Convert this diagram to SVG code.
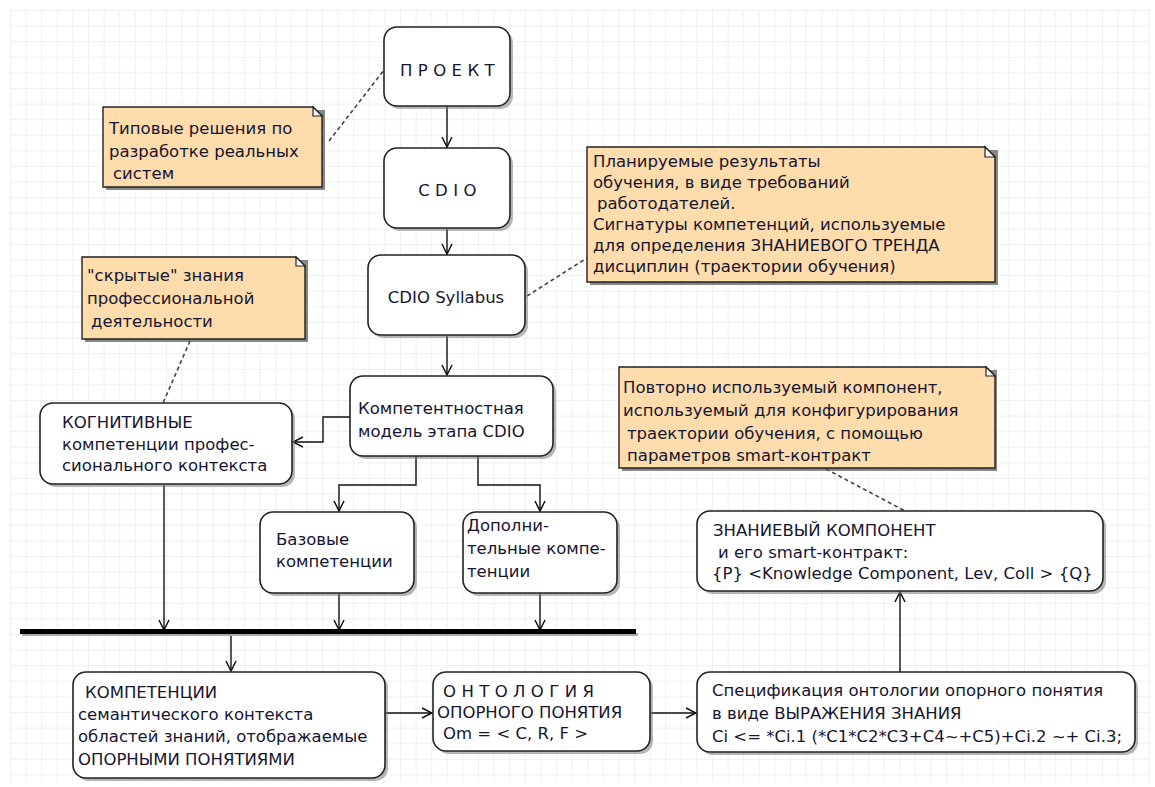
<svg xmlns="http://www.w3.org/2000/svg" width="1155" height="787" viewBox="0 0 1155 787">
<defs>
<pattern id="grid" x="10" y="10" width="15.6" height="15.6" patternUnits="userSpaceOnUse">
<path d="M0,0 H15.6 M0,0 V15.6" fill="none" stroke="#e2e2e2" stroke-width="1"/>
</pattern>
<marker id="arr" viewBox="0 0 12 12" refX="11" refY="6" markerWidth="12" markerHeight="12" markerUnits="userSpaceOnUse" orient="auto">
<path d="M1,1 L11,6 L1,11" fill="none" stroke="#111" stroke-width="1.5"/>
</marker>
</defs>
<style>
text{font-family:"DejaVu Sans","Liberation Sans",sans-serif;font-size:16.5px;fill:#151530}
.box{fill:#fff;stroke:#222;stroke-width:1.6}
.sh{fill:#7a7a7a;opacity:.55}
.nsh{fill:#555;opacity:.7}
.note{fill:#fedcab;stroke:#222;stroke-width:1.4}
.fold{fill:#fff;stroke:#222;stroke-width:1.2}
.con{fill:none;stroke:#111;stroke-width:1.4}
.dash{fill:none;stroke:#444;stroke-width:1.6;stroke-dasharray:4 3}
.sp{letter-spacing:5.4px}
</style>
<rect x="0" y="0" width="1155" height="787" fill="#fff"/>
<rect x="10" y="10" width="1140" height="772" fill="url(#grid)"/>

<g id="connectors">
<path class="con" d="M447,106 V147" marker-end="url(#arr)"/>
<path class="con" d="M447,229 V254" marker-end="url(#arr)"/>
<path class="con" d="M447,336 V375" marker-end="url(#arr)"/>
<path class="con" d="M350,417 H323 V442 H293" marker-end="url(#arr)"/>
<path class="con" d="M416,456 V485 H339 V511" marker-end="url(#arr)"/>
<path class="con" d="M478,456 V485 H540 V511" marker-end="url(#arr)"/>
<path class="con" d="M164,485 V630" marker-end="url(#arr)"/>
<path class="con" d="M339,593 V630" marker-end="url(#arr)"/>
<path class="con" d="M540,593 V630" marker-end="url(#arr)"/>
<path class="con" d="M231,636 V671" marker-end="url(#arr)"/>
<path class="con" d="M385,713 H432" marker-end="url(#arr)"/>
<path class="con" d="M650,713 H696" marker-end="url(#arr)"/>
<path class="con" d="M900,672 V592" marker-end="url(#arr)"/>
<rect x="22" y="633" width="616" height="3" fill="#777" opacity=".6"/>
<rect x="20" y="629" width="616" height="5" fill="#000"/>
<path class="dash" d="M329,141 L384,70"/>
<path class="dash" d="M527,296 L587,258"/>
<path class="dash" d="M190,341 L163,403"/>
<path class="dash" d="M826,469 L905,511"/>
</g>

<g id="n-proekt">
<rect class="sh" x="387" y="30" width="126" height="79" rx="13"/>
<rect class="box" x="384" y="27" width="126" height="79" rx="13"/>
<text class="sp" x="450" y="76" text-anchor="middle">ПРОЕКТ</text>
</g>
<g id="n-cdio">
<rect class="sh" x="387" y="151" width="126" height="80" rx="13"/>
<rect class="box" x="384" y="148" width="126" height="80" rx="13"/>
<text class="sp" x="450" y="196" text-anchor="middle">CDIO</text>
</g>
<g id="n-syllabus">
<rect class="sh" x="371" y="258" width="157" height="80" rx="13"/>
<rect class="box" x="368" y="255" width="157" height="80" rx="13"/>
<text x="446" y="303" text-anchor="middle">CDIO Syllabus</text>
</g>
<g id="n-model">
<rect class="sh" x="353" y="379" width="203" height="80" rx="13"/>
<rect class="box" x="350" y="376" width="203" height="80" rx="13"/>
<text x="358" y="414">Компетентностная</text>
<text x="358" y="437">модель этапа CDIO</text>
</g>
<g id="n-kognit">
<rect class="sh" x="43" y="406" width="252" height="81" rx="13"/>
<rect class="box" x="40" y="403" width="252" height="81" rx="13"/>
<text x="62" y="428">КОГНИТИВНЫЕ</text>
<text x="62" y="450">компетенции профес-</text>
<text x="62" y="471">сионального контекста</text>
</g>
<g id="n-baz">
<rect class="sh" x="263" y="515" width="154" height="81" rx="13"/>
<rect class="box" x="260" y="512" width="154" height="81" rx="13"/>
<text x="276" y="545">Базовые</text>
<text x="276" y="567">компетенции</text>
</g>
<g id="n-dop">
<rect class="sh" x="466" y="515" width="154" height="81" rx="13"/>
<rect class="box" x="463" y="512" width="154" height="81" rx="13"/>
<text x="467" y="531">Дополни-</text>
<text x="467" y="554">тельные компе-</text>
<text x="467" y="577">тенции</text>
</g>
<g id="n-komp">
<rect class="sh" x="76" y="675" width="312" height="106" rx="13"/>
<rect class="box" x="73" y="672" width="312" height="106" rx="13"/>
<text x="85" y="698">КОМПЕТЕНЦИИ</text>
<text x="78" y="720">семантического контекста</text>
<text x="78" y="742">областей знаний, отображаемые</text>
<text x="78" y="765">ОПОРНЫМИ ПОНЯТИЯМИ</text>
</g>
<g id="n-ontol">
<rect class="sh" x="436" y="675" width="217" height="79" rx="13"/>
<rect class="box" x="433" y="672" width="217" height="79" rx="13"/>
<text class="sp" x="443" y="697">ОНТОЛОГИЯ</text>
<text x="437" y="718">ОПОРНОГО ПОНЯТИЯ</text>
<text x="443" y="739">Om = &lt; C, R, F &gt;</text>
</g>
<g id="n-spec">
<rect class="sh" x="700" y="675" width="438" height="80" rx="13"/>
<rect class="box" x="697" y="672" width="438" height="80" rx="13"/>
<text x="712" y="696">Спецификация онтологии опорного понятия</text>
<text x="712" y="719">в виде ВЫРАЖЕНИЯ ЗНАНИЯ</text>
<text x="712" y="742">Ci &lt;= *Ci.1 (*C1*C2*C3+C4~+C5)+Ci.2 ~+ Ci.3;</text>
</g>
<g id="n-znan">
<rect class="sh" x="700" y="514" width="406" height="80" rx="13"/>
<rect class="box" x="697" y="511" width="406" height="80" rx="13"/>
<text x="713" y="536">ЗНАНИЕВЫЙ КОМПОНЕНТ</text>
<text x="718" y="558">и его smart-контракт:</text>
<text x="712" y="579">{P} &lt;Knowledge Component, Lev, Coll &gt; {Q}</text>
</g>

<g id="note-1">
<rect class="nsh" x="106" y="110" width="219" height="80"/>
<path class="note" d="M103,107 H313 L322,116 V187 H103 Z"/>
<path class="fold" d="M313,107 V116 H322 Z"/>
<text x="109" y="134">Типовые решения по</text>
<text x="109" y="157">разработке реальных</text>
<text x="113" y="179">систем</text>
</g>
<g id="note-2">
<rect class="nsh" x="590" y="150" width="408" height="135"/>
<path class="note" d="M587,147 H985 L995,157 V282 H587 Z"/>
<path class="fold" d="M985,147 V157 H995 Z"/>
<text x="593" y="167">Планируемые результаты</text>
<text x="593" y="188">обучения, в виде требований</text>
<text x="597" y="209">работодателей.</text>
<text x="593" y="230">Сигнатуры компетенций, используемые</text>
<text x="593" y="251">для определения ЗНАНИЕВОГО ТРЕНДА</text>
<text x="593" y="272">дисциплин (траектории обучения)</text>
</g>
<g id="note-3">
<rect class="nsh" x="85" y="260" width="223" height="82"/>
<path class="note" d="M82,257 H296 L305,266 V339 H82 Z"/>
<path class="fold" d="M296,257 V266 H305 Z"/>
<text x="87" y="281">"скрытые" знания</text>
<text x="87" y="304">профессиональной</text>
<text x="91" y="327">деятельности</text>
</g>
<g id="note-4">
<rect class="nsh" x="622" y="370" width="375" height="101"/>
<path class="note" d="M619,367 H986 L995,376 V468 H619 Z"/>
<path class="fold" d="M986,367 V376 H995 Z"/>
<text x="623" y="393">Повторно используемый компонент,</text>
<text x="623" y="416">используемый для конфигурирования</text>
<text x="627" y="439">траектории обучения, с помощью</text>
<text x="627" y="461">параметров smart-контракт</text>
</g>
</svg>
